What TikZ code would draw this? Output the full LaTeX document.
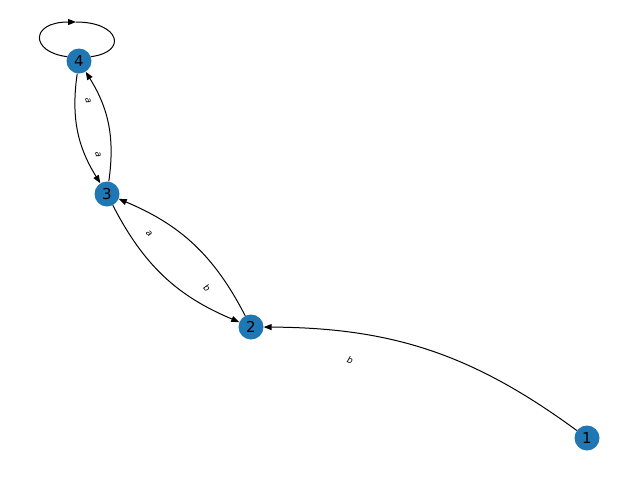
\documentclass[tikz,border=0pt]{standalone}
\usepackage{fontspec}
\setmainfont{DejaVu Sans}
\usetikzlibrary{arrows.meta}
\definecolor{nblue}{HTML}{1F77B4}
\begin{document}
\begin{tikzpicture}[x=1pt,y=-1pt,
  vtx/.style={circle,fill=nblue,minimum size=25pt,inner sep=0pt,font=\fontsize{15}{15}\selectfont},
  arc/.style={line width=1pt,-{Triangle[length=8pt,width=6pt]}},
  elab/.style={font=\fontsize{9}{9}\selectfont\itshape,inner sep=0pt}]
\useasboundingbox (0,0) rectangle (640,480);
\node[vtx] (n4) at (79,61) {4};
\node[vtx] (n3) at (107,194) {3};
\node[vtx] (n2) at (251,327) {2};
\node[vtx] (n1) at (587,438) {1};
\draw[arc] (n4) to[bend right=20] (n3);
\draw[arc] (n3) to[bend right=20] (n4);
\draw[arc] (n3) to[bend right=20] (n2);
\draw[arc] (n2) to[bend right=20] (n3);
\draw[arc] (n1) to[bend right=18] (n2);
\coordinate (ltop) at (76,22);
\draw[arc] (n4.160) .. controls (30,52) and (30,22) .. (ltop);
\draw[line width=1pt] (ltop) .. controls (120,22) and (128,52) .. (n4.20);
\node[elab,rotate=-78] (l1) at (88,101) {a};
\node[elab,rotate=-78] (l2) at (98,155) {a};
\node[elab,rotate=-43] (l3) at (149,234) {a};
\node[elab,rotate=-43] (l4) at (207,288) {b};
\node[elab,rotate=-18] (l5) at (350,360) {b};
\end{tikzpicture}
\end{document}
